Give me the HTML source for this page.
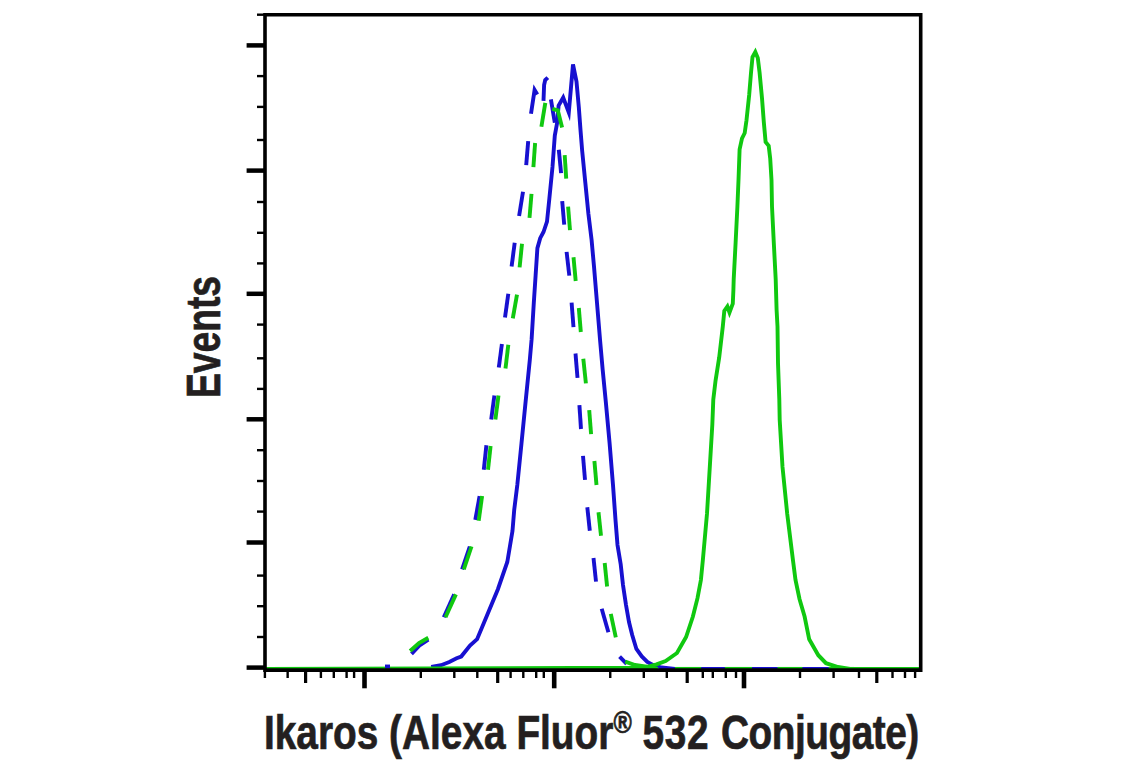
<!DOCTYPE html>
<html><head><meta charset="utf-8"><style>
html,body{margin:0;padding:0;background:#fff;width:1141px;height:768px;overflow:hidden;position:relative}
.t{position:absolute;-webkit-text-stroke:0.7px #231f20;font-family:"Liberation Sans",sans-serif;font-weight:bold;color:#231f20;white-space:nowrap;line-height:1}
#xl{left:264px;top:708.5px;font-size:47.7px;transform-origin:0 0;transform:scaleX(0.8138)}
#xl .cj{margin-left:1px;letter-spacing:-0.6px}
#xl .n{margin-left:0px;letter-spacing:0.9px}
#xl sup{font-size:64%;vertical-align:0;position:relative;top:-0.5em}
#yl{left:0;top:0;font-size:47.7px;transform-origin:0 0;transform:translate(180px,398px) rotate(-90deg) scaleX(0.780)}
</style></head><body>
<svg width="1141" height="768" viewBox="0 0 1141 768" style="position:absolute;left:0;top:0"><polyline points="431.2,667.0 441.0,665.2 449.3,662.0 456.6,658.3 461.2,656.5 470.0,645.5 477.1,639.2 487.5,614.2 497.9,589.2 507.3,562.0 512.5,530.8 514.2,510.0 517.3,485.0 521.5,443.3 525.6,401.7 529.8,360.0 531.6,339.4 533.8,302.9 535.6,275.6 537.4,248.2 540.2,238.2 543.5,232.0 547.0,221.6 549.4,198.1 552.5,166.9 554.8,135.6 557.0,123.6 558.6,105.6 563.2,97.5 568.8,112.5 573.0,64.5 576.5,81.5 578.8,107.0 580.5,130.0 582.2,151.2 585.3,182.5 588.4,213.8 591.6,240.0 594.0,266.5 597.0,302.9 600.0,339.4 602.7,370.0 605.8,401.7 609.6,443.3 613.0,485.0 615.5,520.0 617.5,545.0 620.7,564.3 623.0,585.0 626.0,605.0 629.0,622.0 632.2,635.0 636.4,649.0 641.8,656.5 647.3,662.0 653.0,665.0 661.6,667.5 675.0,668.9 919.0,668.9" fill="none" stroke="#1710d0" stroke-width="3.9" stroke-linejoin="miter" stroke-miterlimit="5"/><polyline points="266.0,668.9 640.0,667.8 647.3,666.8 656.5,664.3 665.6,661.0 677.0,653.0 686.1,637.0 692.9,616.5 697.5,598.2 700.9,580.0 702.8,560.6 707.0,513.7 709.8,466.9 712.3,425.0 713.3,399.4 715.5,381.0 719.2,357.4 722.8,326.5 724.3,311.0 727.4,306.5 729.5,312.5 732.8,303.7 733.4,290.0 733.7,279.4 735.6,242.9 737.4,206.5 738.5,180.0 739.6,149.4 742.0,138.4 744.7,133.0 746.5,120.2 749.2,94.7 751.0,72.8 752.5,57.0 755.3,52.0 757.8,58.0 759.6,72.8 762.0,98.3 763.8,122.0 765.6,142.0 768.7,145.7 770.2,158.5 771.5,180.0 772.0,206.5 773.8,242.9 775.7,279.4 776.6,310.0 777.5,326.5 778.0,363.0 779.3,399.4 779.7,420.0 782.5,466.9 787.2,513.7 793.0,560.6 795.5,580.0 799.5,599.0 804.6,616.5 809.2,639.3 818.3,655.2 826.0,663.2 838.0,667.0 850.0,668.9 919.0,668.9" fill="none" stroke="#10c810" stroke-width="3.9" stroke-linejoin="miter" stroke-miterlimit="5"/><polyline points="537.3,94.5 534.6,90.0 531.0,113.8" fill="none" stroke="#1710d0" stroke-width="3.9" stroke-linejoin="miter"/><polyline points="543.5,100.9 544.1,85.0 545.2,80.0 547.8,77.6" fill="none" stroke="#1710d0" stroke-width="3.9" stroke-linejoin="miter"/><polyline points="550.9,99.4 554.8,122.8" fill="none" stroke="#1710d0" stroke-width="3.9" stroke-linejoin="miter"/><polyline points="558.8,149.7 561.1,173.1" fill="none" stroke="#1710d0" stroke-width="3.9" stroke-linejoin="miter"/><polyline points="562.2,201.2 564.2,224.7" fill="none" stroke="#1710d0" stroke-width="3.9" stroke-linejoin="miter"/><polyline points="566.6,251.9 569.3,275.6" fill="none" stroke="#1710d0" stroke-width="3.9" stroke-linejoin="miter"/><polyline points="571.6,302.7 573.5,327.1" fill="none" stroke="#1710d0" stroke-width="3.9" stroke-linejoin="miter"/><polyline points="575.5,353.5 577.5,377.9" fill="none" stroke="#1710d0" stroke-width="3.9" stroke-linejoin="miter"/><polyline points="579.4,405.2 581.0,429.0" fill="none" stroke="#1710d0" stroke-width="3.9" stroke-linejoin="miter"/><polyline points="583.0,455.8 585.0,479.8" fill="none" stroke="#1710d0" stroke-width="3.9" stroke-linejoin="miter"/><polyline points="587.3,507.3 589.8,530.8" fill="none" stroke="#1710d0" stroke-width="3.9" stroke-linejoin="miter"/><polyline points="593.5,558.0 596.0,581.6" fill="none" stroke="#1710d0" stroke-width="3.9" stroke-linejoin="miter"/><polyline points="601.7,608.8 608.4,632.3" fill="none" stroke="#1710d0" stroke-width="3.9" stroke-linejoin="miter"/><polyline points="619.6,656.7 626.6,663.8" fill="none" stroke="#1710d0" stroke-width="3.9" stroke-linejoin="miter"/><polyline points="528.2,141.1 526.2,165.2" fill="none" stroke="#1710d0" stroke-width="3.9" stroke-linejoin="miter"/><polyline points="523.0,191.8 519.1,216.0" fill="none" stroke="#1710d0" stroke-width="3.9" stroke-linejoin="miter"/><polyline points="514.7,242.8 511.6,266.5" fill="none" stroke="#1710d0" stroke-width="3.9" stroke-linejoin="miter"/><polyline points="508.3,293.8 505.0,317.5" fill="none" stroke="#1710d0" stroke-width="3.9" stroke-linejoin="miter"/><polyline points="501.9,343.9 498.8,367.6" fill="none" stroke="#1710d0" stroke-width="3.9" stroke-linejoin="miter"/><polyline points="494.4,395.4 491.2,419.4" fill="none" stroke="#1710d0" stroke-width="3.9" stroke-linejoin="miter"/><polyline points="486.4,445.3 483.8,469.8" fill="none" stroke="#1710d0" stroke-width="3.9" stroke-linejoin="miter"/><polyline points="479.6,496.1 475.3,519.8" fill="none" stroke="#1710d0" stroke-width="3.9" stroke-linejoin="miter"/><polyline points="469.8,546.5 462.1,569.4" fill="none" stroke="#1710d0" stroke-width="3.9" stroke-linejoin="miter"/><polyline points="454.2,594.4 443.8,617.3" fill="none" stroke="#1710d0" stroke-width="3.9" stroke-linejoin="miter"/><polyline points="428.3,639.5 420.0,645.0 411.5,653.8" fill="none" stroke="#1710d0" stroke-width="3.9" stroke-linejoin="miter"/><polyline points="385.0,666.5 390.0,666.5" fill="none" stroke="#1710d0" stroke-width="3.9" stroke-linejoin="miter"/><polyline points="545.3,102.9 541.4,126.7" fill="none" stroke="#10c810" stroke-width="3.9" stroke-linejoin="miter"/><polyline points="552.3,108.8 557.8,110.3 562.1,127.5" fill="none" stroke="#10c810" stroke-width="3.9" stroke-linejoin="miter"/><polyline points="564.7,155.2 566.2,178.6" fill="none" stroke="#10c810" stroke-width="3.9" stroke-linejoin="miter"/><polyline points="568.1,206.7 570.0,230.2" fill="none" stroke="#10c810" stroke-width="3.9" stroke-linejoin="miter"/><polyline points="573.5,257.3 575.7,281.0" fill="none" stroke="#10c810" stroke-width="3.9" stroke-linejoin="miter"/><polyline points="578.8,308.0 580.8,332.0" fill="none" stroke="#10c810" stroke-width="3.9" stroke-linejoin="miter"/><polyline points="583.3,358.8 585.9,383.4" fill="none" stroke="#10c810" stroke-width="3.9" stroke-linejoin="miter"/><polyline points="589.2,410.1 591.1,434.1" fill="none" stroke="#10c810" stroke-width="3.9" stroke-linejoin="miter"/><polyline points="594.4,461.0 596.5,485.0" fill="none" stroke="#10c810" stroke-width="3.9" stroke-linejoin="miter"/><polyline points="598.5,512.3 601.0,535.8" fill="none" stroke="#10c810" stroke-width="3.9" stroke-linejoin="miter"/><polyline points="604.7,563.0 607.1,586.5" fill="none" stroke="#10c810" stroke-width="3.9" stroke-linejoin="miter"/><polyline points="610.8,613.8 615.8,637.3" fill="none" stroke="#10c810" stroke-width="3.9" stroke-linejoin="miter"/><polyline points="625.2,661.6 635.0,665.0 645.0,666.5 657.8,668.9" fill="none" stroke="#10c810" stroke-width="3.9" stroke-linejoin="miter"/><polyline points="675.0,668.9 701.2,668.9" fill="none" stroke="#10c810" stroke-width="3.9" stroke-linejoin="miter"/><polyline points="724.9,668.9 752.0,668.9" fill="none" stroke="#10c810" stroke-width="3.9" stroke-linejoin="miter"/><polyline points="777.5,668.9 802.4,668.9" fill="none" stroke="#10c810" stroke-width="3.9" stroke-linejoin="miter"/><polyline points="828.7,668.9 854.0,668.9" fill="none" stroke="#10c810" stroke-width="3.9" stroke-linejoin="miter"/><polyline points="535.1,143.0 533.4,167.1" fill="none" stroke="#10c810" stroke-width="3.9" stroke-linejoin="miter"/><polyline points="531.5,193.8 529.5,217.9" fill="none" stroke="#10c810" stroke-width="3.9" stroke-linejoin="miter"/><polyline points="522.0,243.7 519.6,267.4" fill="none" stroke="#10c810" stroke-width="3.9" stroke-linejoin="miter"/><polyline points="517.0,294.7 512.8,318.4" fill="none" stroke="#10c810" stroke-width="3.9" stroke-linejoin="miter"/><polyline points="508.3,344.8 505.5,368.5" fill="none" stroke="#10c810" stroke-width="3.9" stroke-linejoin="miter"/><polyline points="498.5,395.4 495.4,419.4" fill="none" stroke="#10c810" stroke-width="3.9" stroke-linejoin="miter"/><polyline points="490.6,446.0 488.0,469.8" fill="none" stroke="#10c810" stroke-width="3.9" stroke-linejoin="miter"/><polyline points="482.1,496.1 478.7,520.7" fill="none" stroke="#10c810" stroke-width="3.9" stroke-linejoin="miter"/><polyline points="471.5,546.5 463.8,569.4" fill="none" stroke="#10c810" stroke-width="3.9" stroke-linejoin="miter"/><polyline points="455.9,594.4 445.5,617.3" fill="none" stroke="#10c810" stroke-width="3.9" stroke-linejoin="miter"/><polyline points="428.3,637.8 419.0,643.0 410.1,651.0" fill="none" stroke="#10c810" stroke-width="3.9" stroke-linejoin="miter"/><path d="M265.0,14.7 H920.7 V670.1 H265.0 Z" fill="none" stroke="#000" stroke-width="3.6" stroke-linejoin="miter"/><line x1="257" y1="14.7" x2="265.0" y2="14.7" stroke="#000" stroke-width="2.4"/><line x1="246.6" y1="45.4" x2="265.0" y2="45.4" stroke="#000" stroke-width="4.5"/><line x1="257" y1="76.1" x2="265.0" y2="76.1" stroke="#000" stroke-width="2.4"/><line x1="257" y1="106.9" x2="265.0" y2="106.9" stroke="#000" stroke-width="2.4"/><line x1="257" y1="140.0" x2="265.0" y2="140.0" stroke="#000" stroke-width="2.4"/><line x1="246.6" y1="170.6" x2="265.0" y2="170.6" stroke="#000" stroke-width="4.5"/><line x1="257" y1="202.0" x2="265.0" y2="202.0" stroke="#000" stroke-width="2.4"/><line x1="257" y1="232.8" x2="265.0" y2="232.8" stroke="#000" stroke-width="2.4"/><line x1="257" y1="263.4" x2="265.0" y2="263.4" stroke="#000" stroke-width="2.4"/><line x1="246.6" y1="293.8" x2="265.0" y2="293.8" stroke="#000" stroke-width="4.5"/><line x1="257" y1="324.6" x2="265.0" y2="324.6" stroke="#000" stroke-width="2.4"/><line x1="257" y1="358.3" x2="265.0" y2="358.3" stroke="#000" stroke-width="2.4"/><line x1="257" y1="388.9" x2="265.0" y2="388.9" stroke="#000" stroke-width="2.4"/><line x1="246.6" y1="419.3" x2="265.0" y2="419.3" stroke="#000" stroke-width="4.5"/><line x1="257" y1="450.2" x2="265.0" y2="450.2" stroke="#000" stroke-width="2.4"/><line x1="257" y1="481.0" x2="265.0" y2="481.0" stroke="#000" stroke-width="2.4"/><line x1="257" y1="511.6" x2="265.0" y2="511.6" stroke="#000" stroke-width="2.4"/><line x1="246.6" y1="542.5" x2="265.0" y2="542.5" stroke="#000" stroke-width="4.5"/><line x1="257" y1="575.6" x2="265.0" y2="575.6" stroke="#000" stroke-width="2.4"/><line x1="257" y1="606.2" x2="265.0" y2="606.2" stroke="#000" stroke-width="2.4"/><line x1="257" y1="637.0" x2="265.0" y2="637.0" stroke="#000" stroke-width="2.4"/><line x1="246.6" y1="667.6" x2="265.0" y2="667.6" stroke="#000" stroke-width="4.5"/><line x1="264.9" y1="670.1" x2="264.9" y2="678" stroke="#000" stroke-width="2.4"/><line x1="287.65" y1="670.1" x2="287.65" y2="678" stroke="#000" stroke-width="2.4"/><line x1="320.9" y1="670.1" x2="320.9" y2="678" stroke="#000" stroke-width="2.4"/><line x1="333.8" y1="670.1" x2="333.8" y2="678" stroke="#000" stroke-width="2.4"/><line x1="346.6" y1="670.1" x2="346.6" y2="678" stroke="#000" stroke-width="2.4"/><line x1="354.1" y1="670.1" x2="354.1" y2="678" stroke="#000" stroke-width="2.4"/><line x1="420.8" y1="670.1" x2="420.8" y2="678" stroke="#000" stroke-width="2.4"/><line x1="454.3" y1="670.1" x2="454.3" y2="678" stroke="#000" stroke-width="2.4"/><line x1="477.3" y1="670.1" x2="477.3" y2="678" stroke="#000" stroke-width="2.4"/><line x1="510.6" y1="670.1" x2="510.6" y2="678" stroke="#000" stroke-width="2.4"/><line x1="523.3" y1="670.1" x2="523.3" y2="678" stroke="#000" stroke-width="2.4"/><line x1="536.2" y1="670.1" x2="536.2" y2="678" stroke="#000" stroke-width="2.4"/><line x1="543.8" y1="670.1" x2="543.8" y2="678" stroke="#000" stroke-width="2.4"/><line x1="610.25" y1="670.1" x2="610.25" y2="678" stroke="#000" stroke-width="2.4"/><line x1="643.8" y1="670.1" x2="643.8" y2="678" stroke="#000" stroke-width="2.4"/><line x1="666.8" y1="670.1" x2="666.8" y2="678" stroke="#000" stroke-width="2.4"/><line x1="702.8" y1="670.1" x2="702.8" y2="678" stroke="#000" stroke-width="2.4"/><line x1="712.8" y1="670.1" x2="712.8" y2="678" stroke="#000" stroke-width="2.4"/><line x1="725.8" y1="670.1" x2="725.8" y2="678" stroke="#000" stroke-width="2.4"/><line x1="736" y1="670.1" x2="736" y2="678" stroke="#000" stroke-width="2.4"/><line x1="800" y1="670.1" x2="800" y2="678" stroke="#000" stroke-width="2.4"/><line x1="833.6" y1="670.1" x2="833.6" y2="678" stroke="#000" stroke-width="2.4"/><line x1="859" y1="670.1" x2="859" y2="678" stroke="#000" stroke-width="2.4"/><line x1="892.5" y1="670.1" x2="892.5" y2="678" stroke="#000" stroke-width="2.4"/><line x1="905" y1="670.1" x2="905" y2="678" stroke="#000" stroke-width="2.4"/><line x1="915.1" y1="670.1" x2="915.1" y2="678" stroke="#000" stroke-width="2.4"/><line x1="305.6" y1="670.1" x2="305.6" y2="683" stroke="#000" stroke-width="3.2"/><line x1="497.7" y1="670.1" x2="497.7" y2="683" stroke="#000" stroke-width="3.2"/><line x1="687.2" y1="670.1" x2="687.2" y2="683" stroke="#000" stroke-width="3.2"/><line x1="876.8" y1="670.1" x2="876.8" y2="683" stroke="#000" stroke-width="3.2"/><line x1="364.5" y1="670.1" x2="364.5" y2="688.3" stroke="#000" stroke-width="4.6"/><line x1="554.2" y1="670.1" x2="554.2" y2="688.3" stroke="#000" stroke-width="4.6"/><line x1="744" y1="670.1" x2="744" y2="688.3" stroke="#000" stroke-width="4.6"/></svg>
<div class="t" id="xl">Ikaros (Alexa Fluor<sup>®</sup> <span class="n">532</span> <span class="cj">Conjugate)</span></div>
<div class="t" id="yl">Events</div>
</body></html>
